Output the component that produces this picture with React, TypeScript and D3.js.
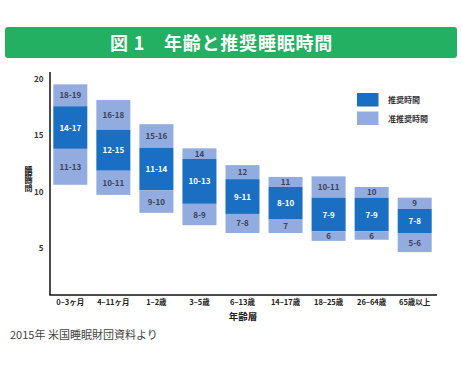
import { scaleBand, scaleLinear } from "d3";

const width = 462;
const height = 366;

const categories = ["0–3ヶ月", "4–11ヶ月", "1–2歳", "3–5歳", "6–13歳", "14–17歳", "18–25歳", "26–64歳", "65歳以上"];
// light-blue lower band bottom, dark band bottom, dark band top, light-blue upper band top
const lowerBottom = [10.6, 9.7, 8.1, 7.0, 6.3, 6.3, 5.6, 5.7, 4.6];
const recBottom = [13.8, 11.85, 10.1, 8.9, 8.0, 7.5, 6.45, 6.45, 6.3];
const recTop = [17.6, 15.5, 13.9, 12.9, 11.1, 10.4, 9.45, 9.45, 8.45];
const upperTop = [19.55, 18.15, 16.0, 13.85, 12.35, 11.3, 11.35, 10.4, 9.45];
const lowerLabels = ["11-13", "10-11", "9-10", "8-9", "7-8", "7", "6", "6", "5-6"];
const recLabels = ["14-17", "12-15", "11-14", "10-13", "9-11", "8-10", "7-9", "7-9", "7-8"];
const upperLabels = ["18-19", "16-18", "15-16", "14", "12", "11", "10-11", "10", "9"];
const yTicks = [5, 10, 15, 20];

const DARK = "#1b6fc2";
const LIGHT = "#92acdf";
const font = "'Noto Sans CJK JP', 'Noto Sans', sans-serif";

const App = () => {
  const x = scaleBand<string>().domain(categories).range([49, 436]).paddingInner(0.21).paddingOuter(0.1);
  const y = scaleLinear().domain([0, 20]).range([303.7, 79.3]);
  const plotBottom = 295;

  return (
    <svg width={width} height={height} style={{ position: "absolute", left: 0, top: 0 }} fontFamily={font}>
      <rect width={width} height={height} fill="#fff" />
      <rect x={5} y={27} width={452} height={31} rx={3} fill="#23b063" />
      <text x={110} y={49.5} fill="#fff" fontSize={18} fontWeight={700} letterSpacing={0.8}>
        図 1　年齢と推奨睡眠時間
      </text>

      {/* axes */}
      <line x1={50} x2={50} y1={72} y2={plotBottom} stroke="#111" strokeWidth={1.5} />
      <line x1={49.3} x2={437} y1={plotBottom} y2={plotBottom} stroke="#111" strokeWidth={1.5} />
      {yTicks.map((t) => (
        <text key={t} x={43.5} y={y(t) + 3} textAnchor="end" fontSize={8} fontWeight={700} fill="#333">
          {t}
        </text>
      ))}
      <text
        transform="translate(28.5, 166) scale(1, 0.8)"
        style={{ writingMode: "vertical-rl" }}
        fontSize={8}
        fontWeight={700}
        fill="#222"
      >
        睡眠時間
      </text>

      {categories.map((c, i) => {
        const x0 = x(c) as number;
        const bw = x.bandwidth();
        const cx = x0 + bw / 2;
        return (
          <g key={c}>
            <rect x={x0} y={y(upperTop[i])} width={bw} height={y(recTop[i]) - y(upperTop[i])} fill={LIGHT} />
            <rect x={x0} y={y(recTop[i])} width={bw} height={y(recBottom[i]) - y(recTop[i])} fill={DARK} />
            <rect x={x0} y={y(recBottom[i])} width={bw} height={y(lowerBottom[i]) - y(recBottom[i])} fill={LIGHT} />
            <text x={cx} y={(y(upperTop[i]) + y(recTop[i])) / 2 + 3} textAnchor="middle" fontSize={8} fontWeight={700} fill="#3a4256">
              {upperLabels[i]}
            </text>
            <text x={cx} y={(y(recTop[i]) + y(recBottom[i])) / 2 + 3} textAnchor="middle" fontSize={8} fontWeight={700} fill="#fff">
              {recLabels[i]}
            </text>
            <text x={cx} y={(y(recBottom[i]) + y(lowerBottom[i])) / 2 + 3} textAnchor="middle" fontSize={8} fontWeight={700} fill="#3a4256">
              {lowerLabels[i]}
            </text>
            <text x={cx} y={305} textAnchor="middle" fontSize={7.5} fontWeight={700} fill="#222">
              {c}
            </text>
          </g>
        );
      })}

      <text x={243} y={320} textAnchor="middle" fontSize={9.5} fontWeight={700} fill="#222">
        年齢層
      </text>

      {/* legend */}
      <rect x={357} y={93} width={21.5} height={13.5} fill={DARK} />
      <rect x={357} y={111.5} width={21.5} height={13.5} fill={LIGHT} />
      <text x={388} y={103} fontSize={8} fontWeight={700} fill="#333">推奨時間</text>
      <text x={388} y={121.5} fontSize={8} fontWeight={700} fill="#333">准推奨時間</text>

      <text x={10} y={339} fontSize={11} fill="#444">
        2015年 米国睡眠財団資料より
      </text>
    </svg>
  );
};

export default App;
